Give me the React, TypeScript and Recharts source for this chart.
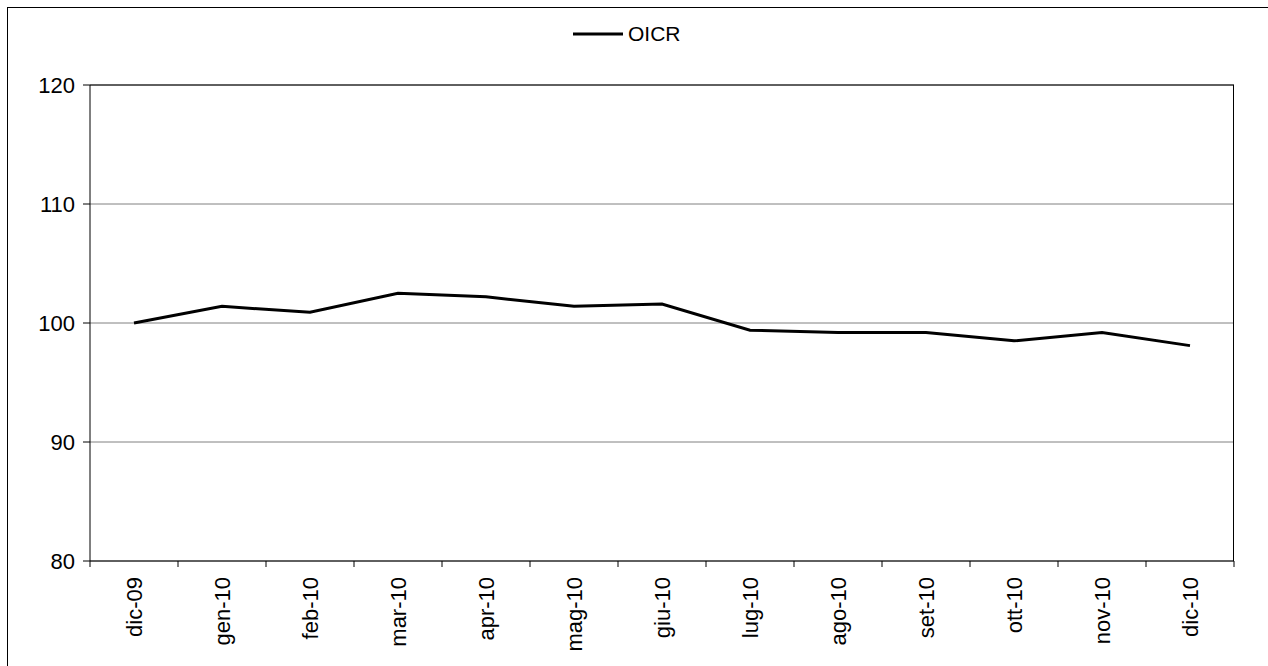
import { LineChart, Line, XAxis, YAxis, CartesianGrid, Legend, ReferenceLine } from "recharts";

const months = ["dic-09", "gen-10", "feb-10", "mar-10", "apr-10", "mag-10", "giu-10", "lug-10", "ago-10", "set-10", "ott-10", "nov-10", "dic-10"];
const oicr = [100, 101.4, 100.9, 102.5, 102.2, 101.4, 101.6, 99.4, 99.2, 99.2, 98.5, 99.2, 98.1];
const yTicks = [80, 90, 100, 110, 120];

const data = months.map((m, i) => ({ name: m, OICR: oicr[i] }));

const W = 1260;
const H = 658;
const LEFT = 82;
const RIGHT = 34;
const TOP = 77;
const BOTTOM = 105;
const BAND = (W - LEFT - RIGHT) / months.length;
const FONT = "'Liberation Sans', Arial, sans-serif";

function MonthTick(props: any) {
  const { x, y, payload, index } = props;
  const last = index === months.length - 1;
  return (
    <g>
      <line x1={x - BAND / 2} x2={x - BAND / 2} y1={y - 16} y2={y - 10} stroke="#000" />
      {last && <line x1={x + BAND / 2} x2={x + BAND / 2} y1={y - 16} y2={y - 10} stroke="#000" />}
      <text
        x={x}
        y={y}
        transform={`rotate(-90, ${x}, ${y})`}
        textAnchor="end"
        dy="0.35em"
        fontSize={22}
        fontFamily={FONT}
        fill="#000"
      >
        {payload.value}
      </text>
    </g>
  );
}

function LegendBox() {
  return (
    <div style={{ display: "flex", alignItems: "center", fontFamily: FONT, fontSize: 21 }}>
      <svg width={50} height={6}>
        <line x1={0} x2={50} y1={3} y2={3} stroke="#000" strokeWidth={3} />
      </svg>
      <span style={{ marginLeft: 5 }}>OICR</span>
    </div>
  );
}

export default function App() {
  return (
    <div style={{ position: "absolute", left: 7, top: 7, width: 1300, height: 700, border: "1px solid #000", background: "#fff" }}>
      <LineChart width={W} height={H} data={data} margin={{ top: TOP, right: RIGHT, left: 0, bottom: 0 }}>
        <CartesianGrid horizontal vertical={false} stroke="#808080" />
        {/* right edge of the plot frame */}
        <CartesianGrid horizontal={false} vertical verticalPoints={[W - RIGHT - 0.5]} stroke="#000" />
        <XAxis
          dataKey="name"
          height={BOTTOM}
          padding={{ left: BAND / 2, right: BAND / 2 }}
          interval={0}
          axisLine={{ stroke: "#000" }}
          tickLine={false}
          tickSize={6}
          tickMargin={10}
          tick={<MonthTick />}
        />
        <YAxis
          domain={[80, 120]}
          ticks={yTicks}
          width={LEFT}
          axisLine={{ stroke: "#000" }}
          tickLine={{ stroke: "#000" }}
          tickSize={7}
          tickMargin={8}
          tick={{ fontSize: 22, fontFamily: FONT, fill: "#000" }}
        />
        <ReferenceLine y={120} stroke="#000" />
        <Legend
          verticalAlign="middle"
          align="center"
          content={<LegendBox />}
          wrapperStyle={{ top: 14, left: 565, width: "auto" }}
        />
        <Line
          type="linear"
          dataKey="OICR"
          stroke="#000"
          strokeWidth={3}
          dot={false}
          isAnimationActive={false}
        />
      </LineChart>
    </div>
  );
}
